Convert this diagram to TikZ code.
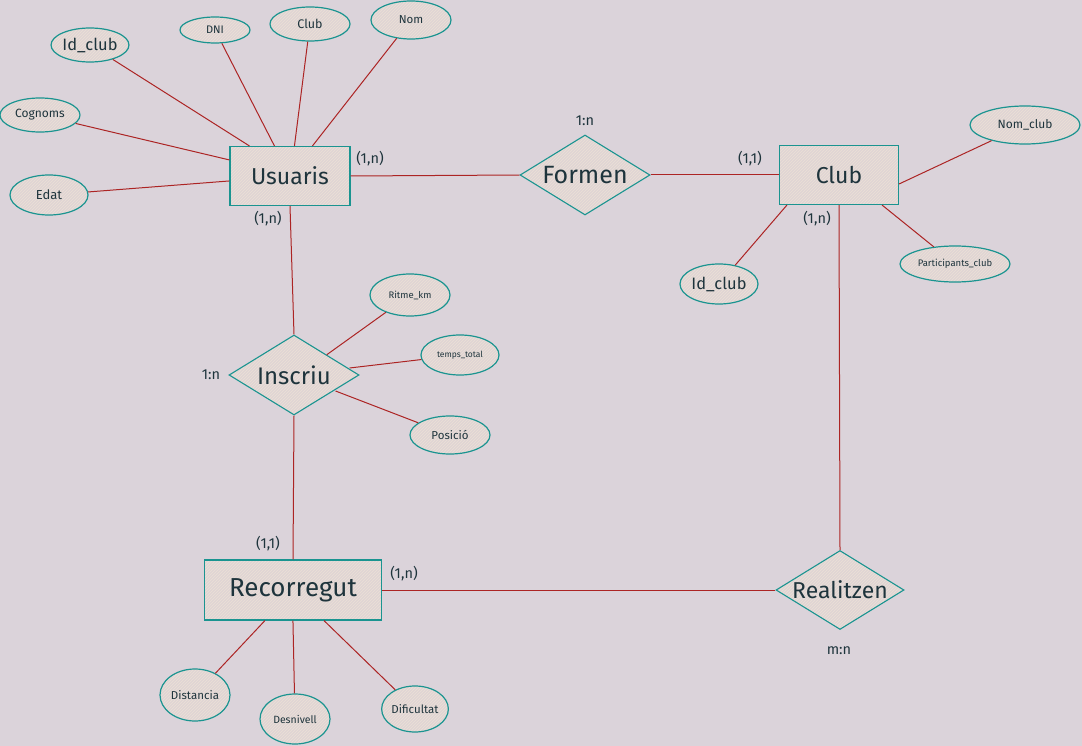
\documentclass[tikz,border=0pt]{standalone}
\usepackage{fontspec}
\setmainfont{Fira Sans}
\usetikzlibrary{shapes.geometric,patterns}
\definecolor{bgc}{RGB}{219,211,218}
\definecolor{tealc}{RGB}{26,148,144}
\definecolor{redc}{RGB}{172,36,36}
\definecolor{txtc}{RGB}{30,52,60}
\definecolor{fillc}{RGB}{224,213,212}
\definecolor{hatchc}{RGB}{236,224,214}
\newcommand\fsz[1]{\fontsize{#1}{#1}\selectfont}
\tikzset{
  shade/.style={preaction={fill=fillc}, pattern=north east lines, pattern color=hatchc},
  entity/.style={draw=tealc, line width=1.1pt, shade, rectangle, text=txtc, font=\fsz{23}, inner sep=0pt},
  relation/.style={draw=tealc, line width=1.1pt, shade, diamond, aspect=1.62, text=txtc, font=\fsz{23}, inner sep=0pt},
  attr/.style={draw=tealc, line width=1.2pt, shade, ellipse, text=txtc, font=\fsz{11}, inner sep=0pt},
  card/.style={text=txtc, font=\fsz{14.5}, inner sep=0pt},
  link/.style={draw=redc, line width=1pt},
}
\begin{document}
\begin{tikzpicture}[x=1pt,y=-1pt]
\useasboundingbox[fill=bgc] (0,0) rectangle (1082,746);

% entities
\node[entity, minimum width=120, minimum height=59] (usu) at (290,176) {Usuaris};
\node[entity, minimum width=119, minimum height=59] (club) at (839,175) {Club};
\node[entity, minimum width=177, minimum height=60, font=\fsz{26}] (rec) at (293,590) {Recorregut};

% relations
\node[relation, minimum width=130, minimum height=80, font=\fsz{25}] (for) at (585,175) {Formen};
\node[relation, minimum width=130, minimum height=80, font=\fsz{24}] (ins) at (294,375) {Inscriu};
\node[relation, minimum width=128, minimum height=79] (rea) at (840,590) {Realitzen};

% attributes of Usuaris
\node[attr, minimum width=76, minimum height=34, font=\fsz{16.5}] (idcu) at (90,45) {Id\_club};
\node[attr, minimum width=70, minimum height=26] (dni) at (215,30) {DNI};
\node[attr, minimum width=80, minimum height=34, font=\fsz{12.5}] (clu) at (310,24) {Club};
\node[attr, minimum width=80, minimum height=38, font=\fsz{11.5}] (nom) at (411,20) {Nom};
\node[attr, minimum width=80, minimum height=34, font=\fsz{12}] (cog) at (40,115) {Cognoms};
\node[attr, minimum width=78, minimum height=40, font=\fsz{13}] (edat) at (49,195) {Edat};

% attributes of Club
\node[attr, minimum width=110, minimum height=38, font=\fsz{12}] (nomc) at (1025,125) {Nom\_club};
\node[attr, minimum width=110, minimum height=36, font=\fsz{9.5}] (part) at (955,264) {Participants\_club};
\node[attr, minimum width=78, minimum height=40, font=\fsz{16.5}] (idcc) at (719,284) {Id\_club};

% attributes of Inscriu
\node[attr, minimum width=80, minimum height=42, font=\fsz{9.5}] (rit) at (410,295) {Ritme\_km};
\node[attr, minimum width=78, minimum height=40, font=\fsz{8.5}] (tem) at (460,355) {temps\_total};
\node[attr, minimum width=80, minimum height=38, font=\fsz{11.5}] (pos) at (450,435) {Posició};

% attributes of Recorregut
\node[attr, minimum width=70, minimum height=52, font=\fsz{11.5}] (dist) at (195,695) {Distancia};
\node[attr, minimum width=70, minimum height=50, font=\fsz{10.5}] (des) at (295,719) {Desnivell};
\node[attr, minimum width=66, minimum height=46, font=\fsz{11.5}] (dif) at (415,709) {Dificultat};

% cardinality labels
\node[card] (c1) at (585,121) {1:n};
\node[card] (c2) at (370,159) {(1,n)};
\node[card] (c3) at (750,159) {(1,1)};
\node[card] (c4) at (268,219) {(1,n)};
\node[card] (c5) at (817,219) {(1,n)};
\node[card] (c6) at (211,375) {1:n};
\node[card] (c7) at (268,544) {(1,1)};
\node[card] (c8) at (404,574) {(1,n)};
\node[card] (c9) at (839,651) {m:n};

% relationship links
\draw[link] (usu.east) -- (for.west);
\draw[link] (for.east) -- (club.west);
\draw[link] (usu.south) -- (ins.north);
\draw[link] (ins.south) -- (rec.north);
\draw[link] (rec.east) -- (rea.west);
\draw[link] (club.south) -- (rea.north);

% attribute links
\draw[link] (idcu) -- ([xshift=20]usu.north west);
\draw[link] (dni) -- ([xshift=45]usu.north west);
\draw[link] (clu) -- ([xshift=65]usu.north west);
\draw[link] (nom) -- ([xshift=83]usu.north west);
\draw[link] (cog) -- ([yshift=-14]usu.north west);
\draw[link] (edat) -- ([yshift=-35]usu.north west);

\draw[link] (nomc) -- ([yshift=-9]club.east);
\draw[link] (part) -- ([xshift=-17]club.south east);
\draw[link] (idcc) -- ([xshift=8]club.south west);

\draw[link] (rit) -- (ins.north east);
\draw[link] (tem) -- ([xshift=-10, yshift=7]ins.east);
\draw[link] (pos) -- ([xshift=-24, yshift=-16]ins.east);

\draw[link] (dist) -- ([xshift=61]rec.south west);
\draw[link] (des) -- ([xshift=89]rec.south west);
\draw[link] (dif) -- ([xshift=120]rec.south west);
\end{tikzpicture}
\end{document}
